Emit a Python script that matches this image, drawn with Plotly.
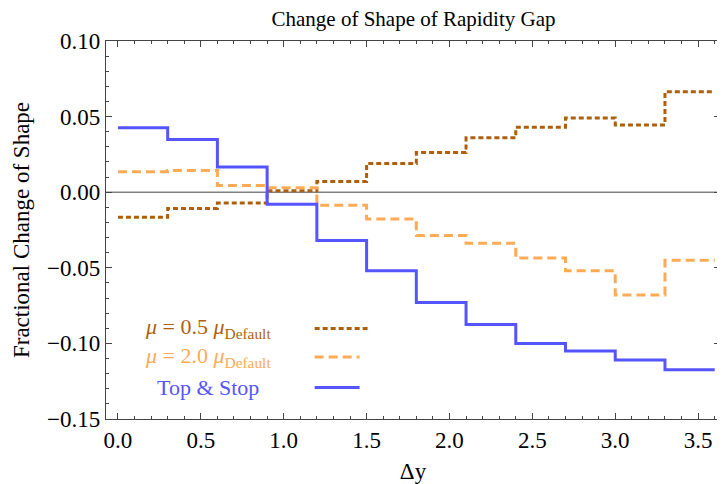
import plotly.graph_objects as go

# ---- data ----
bin_edges = [0.0, 0.3, 0.6, 0.9, 1.2, 1.5, 1.8, 2.1, 2.4, 2.7, 3.0, 3.3, 3.6]
mu_half = [-0.0166, -0.0107, -0.0072, 0.0009, 0.0070, 0.0189, 0.0263, 0.0360, 0.0430, 0.0490, 0.0445, 0.0664]
mu_double = [0.0136, 0.0143, 0.0044, 0.0029, -0.0086, -0.0178, -0.0287, -0.0338, -0.0436, -0.0520, -0.0680, -0.0450]
top_stop = [0.0426, 0.0349, 0.0167, -0.0079, -0.0320, -0.0520, -0.0730, -0.0875, -0.1000, -0.1050, -0.1110, -0.1175]

x_ticks = [0.0, 0.5, 1.0, 1.5, 2.0, 2.5, 3.0, 3.5]
y_ticks = [-0.15, -0.10, -0.05, 0.00, 0.05, 0.10]

labels = ["<i>μ</i> = 0.5 <i>μ</i><sub>Default</sub>",
          "<i>μ</i> = 2.0 <i>μ</i><sub>Default</sub>",
          "Top &amp; Stop"]
colors = ["#AE5F0E", "#FFAA55", "#5555FF"]
dashes = ["5px,3px", "9px,5px", "solid"]
series = [mu_half, mu_double, top_stop]

FONT = "Liberation Serif, Times New Roman, serif"

# page body has an 8px margin, so the figure is sized/offset to compensate
W, H = 717, 476
ML, MR, MT, MB = 98, 4, 33, 59

fig = go.Figure()

for vals, col, dash in zip(series, colors, dashes):
    fig.add_trace(go.Scatter(
        x=bin_edges, y=vals + [vals[-1]], mode="lines", line_shape="hv",
        line=dict(color=col, width=3, dash=dash), showlegend=False,
        hoverinfo="skip"))

# zero line
fig.add_hline(y=0, line=dict(color="#808080", width=1.6), layer="below")

# custom legend (text left, line sample right)
pw = W - ML - MR
ph = H - MT - MB
row_px = [333, 362, 393]          # reference pixel rows
text_cx = 208                     # reference pixel centre of legend text
sample_px = [(315, 368), (315, 360), (315, 360)]
for lab, col, dash, ry, (sx0, sx1) in zip(labels, colors, dashes, row_px, sample_px):
    yy = 1 - ((ry - 8) - MT) / ph
    fig.add_annotation(xref="paper", yref="paper", x=((text_cx - 8) - ML) / pw, y=yy, text=lab,
                       showarrow=False, xanchor="center", yanchor="middle",
                       font=dict(family=FONT, size=22, color=col))
    fig.add_shape(type="line", xref="paper", yref="paper",
                  x0=((sx0 - 8) - ML) / pw, x1=((sx1 - 8) - ML) / pw,
                  y0=yy, y1=yy, line=dict(color=col, width=3, dash=dash))

axis_common = dict(showline=True, linecolor="#444444", linewidth=1.3, mirror="ticks",
                   ticks="inside", ticklen=6, tickwidth=1, tickcolor="#444444",
                   showgrid=False, zeroline=False,
                   tickfont=dict(family=FONT, size=23, color="black"))

fig.update_xaxes(range=[-0.072, 3.632], tickvals=x_ticks, tickformat=".1f",
                 minor=dict(dtick=0.1, ticks="inside", ticklen=3, tickcolor="#444444", showgrid=False),
                 title=dict(text="Δy", font=dict(family=FONT, size=23, color="black"), standoff=11),
                 **axis_common)
fig.update_yaxes(range=[-0.15, 0.10], tickvals=y_ticks, tickformat=".2f",
                 minor=dict(dtick=0.01, ticks="inside", ticklen=3, tickcolor="#444444", showgrid=False),
                 title=dict(text="Fractional Change of Shape", font=dict(family=FONT, size=23, color="black"), standoff=10),
                 **axis_common)

fig.update_layout(
    width=W, height=H,
    margin=dict(l=ML, r=MR, t=MT, b=MB),
    plot_bgcolor="white", paper_bgcolor="white",
    title=dict(text="Change of Shape of Rapidity Gap", x=(ML + W - MR) / 2 / W, xanchor="center",
               y=1 - 3 / H, yanchor="top", pad=dict(t=0, b=0),
               font=dict(family=FONT, size=21, color="black")),
    showlegend=False,
)

fig.write_html("out.html")
